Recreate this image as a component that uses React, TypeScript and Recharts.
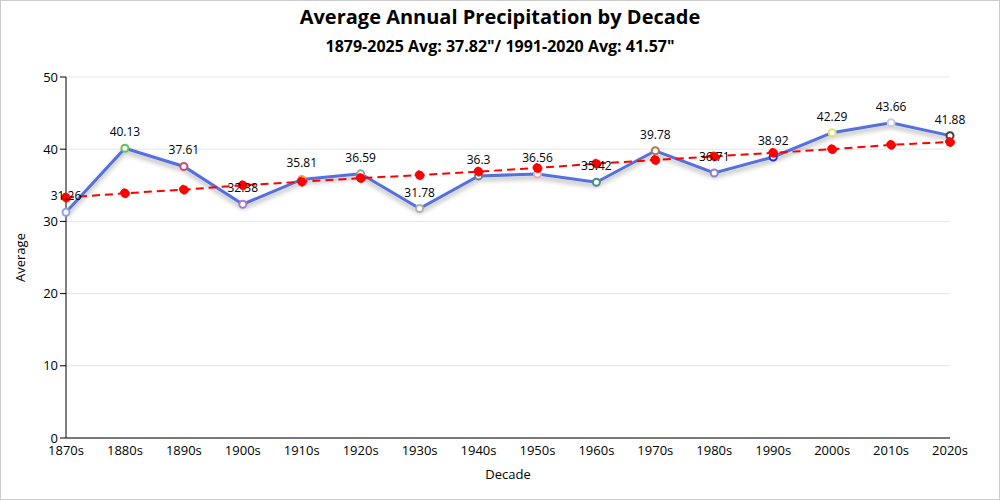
import { CartesianGrid, Label, LabelList, Line, LineChart, XAxis, YAxis } from 'recharts';

const decades = ['1870s', '1880s', '1890s', '1900s', '1910s', '1920s', '1930s', '1940s', '1950s', '1960s', '1970s', '1980s', '1990s', '2000s', '2010s', '2020s'];
const averages = [31.26, 40.13, 37.61, 32.38, 35.81, 36.59, 31.78, 36.3, 36.56, 35.42, 39.78, 36.71, 38.92, 42.29, 43.66, 41.88];
const trend = [33.3, 33.9, 34.4, 35.0, 35.5, 36.0, 36.4, 36.9, 37.4, 38.0, 38.5, 39.0, 39.5, 40.0, 40.6, 41.0];
const dotColors = ['#8ea2e6', '#5cc25c', '#c8506e', '#a77ccc', '#f2a23a', '#8fa8a0', '#b0b0b0', '#4e8c92', '#e8a8b8', '#4a8a80', '#a87a58', '#9080d0', '#2a2ad0', '#e0e070', '#c8cce0', '#404040'];
const yTicks = [0, 10, 20, 30, 40, 50];

const data = decades.map((decade, i) => ({ decade, avg: averages[i], trend: trend[i] }));

const font = '"Segoe UI", "Open Sans", sans-serif';

const ColoredDot = (props: any) => {
  const { cx, cy, index } = props;
  if (cx == null || cy == null) return null;
  return <circle key={index} cx={cx} cy={cy} r={3.5} fill="#fff" stroke={dotColors[index]} strokeWidth={2} />;
};

export default function App() {
  return (
    <div style={{ position: 'fixed', top: 0, left: 0, width: 998, height: 498, border: '1px solid #ccc', background: '#fff', fontFamily: font }}>
      <div style={{ position: 'absolute', top: 2, width: '100%', textAlign: 'center', fontSize: 20, fontWeight: 700, color: '#000' }}>
        Average Annual Precipitation by Decade
      </div>
      <div style={{ position: 'absolute', top: 34, width: '100%', textAlign: 'center', fontSize: 16, fontWeight: 700, color: '#000' }}>
        1879-2025 Avg: 37.82"/ 1991-2020 Avg: 41.57"
      </div>
      <LineChart width={998} height={498} data={data} margin={{ top: 76, right: 49, bottom: 31, left: 5 }} style={{ fontFamily: font }}>
        <defs>
          <filter id="lineShadow" x="-5%" y="-20%" width="110%" height="140%">
            <feDropShadow dx="0" dy="3" stdDeviation="2.5" floodColor="#000" floodOpacity="0.35" />
          </filter>
        </defs>
        <CartesianGrid vertical={false} stroke="#e6e6e6" />
        <XAxis dataKey="decade" stroke="#000" tick={{ fill: '#000', fontSize: 13 }} height={30} tickLine={false}>
          <Label value="Decade" position="bottom" offset={2} style={{ fill: '#000', fontSize: 13 }} />
        </XAxis>
        <YAxis domain={[0, 50]} ticks={yTicks} stroke="#000" tick={{ fill: '#000', fontSize: 13 }} width={60}>
          <Label value="Average" angle={-90} position="insideLeft" offset={14} style={{ fill: '#000', fontSize: 13, textAnchor: 'middle' }} />
        </YAxis>
        <Line
          dataKey="avg"
          stroke="#5470dc"
          strokeWidth={3}
          filter="url(#lineShadow)"
          dot={ColoredDot}
          activeDot={false}
          isAnimationActive={false}
        >
          <LabelList dataKey="avg" position="top" offset={12} style={{ fill: '#000', fontSize: 12 }} />
        </Line>
        <Line
          dataKey="trend"
          stroke="#ff0000"
          strokeWidth={2}
          strokeDasharray="8 5"
          dot={{ r: 4.5, fill: '#ff0000', stroke: '#ff0000', strokeWidth: 1 }}
          activeDot={false}
          isAnimationActive={false}
        />
      </LineChart>
    </div>
  );
}
